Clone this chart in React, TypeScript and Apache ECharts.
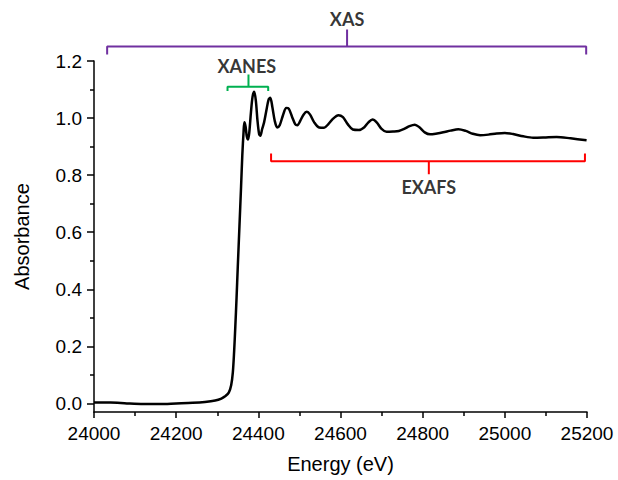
import React, { useEffect, useRef } from "react";
import * as echarts from "echarts";

const energy = [
  24000, 24040, 24080, 24120, 24160, 24200, 24240, 24270, 24295, 24310, 24320, 24328,
  24334, 24338, 24341, 24344, 24347, 24350, 24354, 24358, 24361, 24364, 24366, 24369,
  24372, 24375, 24378, 24382, 24386, 24390, 24394, 24398, 24402, 24405, 24409, 24414,
  24420, 24425, 24429, 24434, 24440, 24446, 24452, 24460, 24468, 24474, 24482, 24490,
  24495, 24502, 24510, 24518, 24526, 24536, 24548, 24560, 24570, 24582, 24595, 24606,
  24618, 24630, 24645, 24658, 24668, 24678, 24688, 24700, 24712, 24728, 24742, 24755,
  24768, 24781, 24792, 24805, 24818, 24835, 24850, 24868, 24887, 24905, 24922, 24940,
  24960, 24980, 25000, 25020, 25045, 25069, 25095, 25126, 25160, 25199,
];
const absorbance = [
  0.003, 0.003, 0.0, -0.002, -0.002, 0.0, 0.002, 0.005, 0.01, 0.017, 0.026, 0.038,
  0.065, 0.11, 0.18, 0.27, 0.37, 0.48, 0.62, 0.76, 0.87, 0.95, 0.985, 0.97,
  0.935, 0.925, 0.95, 1.02, 1.075, 1.092, 1.06, 0.99, 0.943, 0.938, 0.96, 0.985,
  1.03, 1.065, 1.071, 1.04, 0.99, 0.967, 0.975, 1.01, 1.035, 1.033, 1.005, 0.978,
  0.975, 0.99, 1.012, 1.022, 1.012, 0.985, 0.967, 0.966, 0.978, 0.998, 1.01, 1.003,
  0.978, 0.96, 0.958, 0.968, 0.985, 0.995, 0.985, 0.962, 0.952, 0.953, 0.955, 0.962,
  0.972, 0.977, 0.968, 0.95, 0.943, 0.946, 0.95, 0.956, 0.961, 0.955, 0.945, 0.94,
  0.942, 0.946, 0.948, 0.944, 0.936, 0.931, 0.932, 0.934, 0.929, 0.922,
];

const yMajorTicks = [0, 0.2, 0.4, 0.6, 0.8, 1.0, 1.2];
const yMinorTicks = [0.1, 0.3, 0.5, 0.7, 0.9, 1.1];

// Brackets: [startE, endE, centerE, lineA, endA, tickA]
const xasBracket = [24032, 25198, 24616, 1.251, 1.223, 1.31];
const xanesBracket = [24325, 24424, 24376, 1.11, 1.095, 1.153];
const exafsBracket = [24431, 25195, 24815, 0.849, 0.876, 0.803];

const labelNames = ["XAS", "XANES", "EXAFS"];
const labelPositions = [
  [24616, 1.3455],
  [24372, 1.181],
  [24815, 0.757],
];
const bracketColors = ["#7030A0", "#00B050", "#FF0000"];

function bracketPoints(b: number[]) {
  const [s, e, c, line, end, tick] = b;
  return [
    [s, end],
    [s, line],
    [c, line],
    [c, tick],
    [c, line],
    [e, line],
    [e, end],
  ];
}

export default function App() {
  const ref = useRef<HTMLDivElement>(null);
  useEffect(() => {
    if (!ref.current) return;
    const chart = echarts.init(ref.current, null, { renderer: "svg" });
    const axisFont = "'Liberation Sans', Arial, sans-serif";
    const brackets = [xasBracket, xanesBracket, exafsBracket];
    chart.setOption({
      animation: false,
      backgroundColor: "#ffffff",
      grid: { left: 94, right: 31, top: 61, bottom: 68 },
      xAxis: {
        type: "value",
        min: 24000,
        max: 25200,
        interval: 200,
        name: "Energy (eV)",
        nameLocation: "middle",
        nameGap: 42,
        nameTextStyle: { fontFamily: axisFont, fontSize: 20, color: "#000" },
        axisLine: { show: true, onZero: false, lineStyle: { color: "#000", width: 1.5 } },
        axisTick: { show: true, inside: false, length: 6, lineStyle: { color: "#000", width: 1.5 } },
        minorTick: { show: true, splitNumber: 2, length: 4, lineStyle: { color: "#000", width: 1.5 } },
        axisLabel: {
          fontFamily: axisFont,
          fontSize: 19,
          color: "#000",
          margin: 12,
          formatter: (v: number) => String(v),
        },
        splitLine: { show: false },
      },
      yAxis: [
        {
          type: "value",
          min: -0.03,
          max: 1.2,
          name: "Absorbance",
          nameLocation: "middle",
          nameGap: 62,
          nameTextStyle: { fontFamily: axisFont, fontSize: 20, color: "#000" },
          axisLine: { show: true, onZero: false, lineStyle: { color: "#000", width: 1.5 } },
          axisTick: { show: true, length: 7, customValues: yMajorTicks, lineStyle: { color: "#000", width: 1.5 } },
          axisLabel: {
            fontFamily: axisFont,
            fontSize: 19,
            color: "#000",
            margin: 12,
            customValues: yMajorTicks,
            formatter: (v: number) => v.toFixed(1),
          },
          splitLine: { show: false },
        },
        {
          type: "value",
          min: -0.03,
          max: 1.2,
          position: "left",
          axisLine: { show: false },
          axisTick: { show: true, length: 4, customValues: yMinorTicks, lineStyle: { color: "#000", width: 1.5 } },
          axisLabel: { show: false },
          splitLine: { show: false },
        },
      ],
      series: [
        {
          type: "line",
          data: energy.map((e, i) => [e, absorbance[i]]),
          showSymbol: false,
          symbol: "none",
          smooth: 0.3,
          lineStyle: { color: "#000", width: 2.5 },
          clip: false,
        },
        ...brackets.map((b, i) => ({
          type: "line",
          data: bracketPoints(b),
          showSymbol: false,
          symbol: "none",
          clip: false,
          lineStyle: { color: bracketColors[i], width: 2 },
        })),
        {
          type: "scatter",
          clip: false,
          symbolSize: 0.1,
          itemStyle: { color: "rgba(0,0,0,0)" },
          data: labelPositions.map((p, i) => ({ value: p, name: labelNames[i] })),
          label: {
            show: true,
            position: "inside",
            formatter: (p: any) => p.name,
            fontFamily: "Lato, 'Open Sans', sans-serif",
            fontWeight: "bold",
            fontSize: 18,
            color: "#000",
          },
        },
      ],
    });
    return () => chart.dispose();
  }, []);
  return (
    <div
      ref={ref}
      style={{ position: "fixed", left: 0, top: 0, width: 618, height: 480 }}
    />
  );
}
